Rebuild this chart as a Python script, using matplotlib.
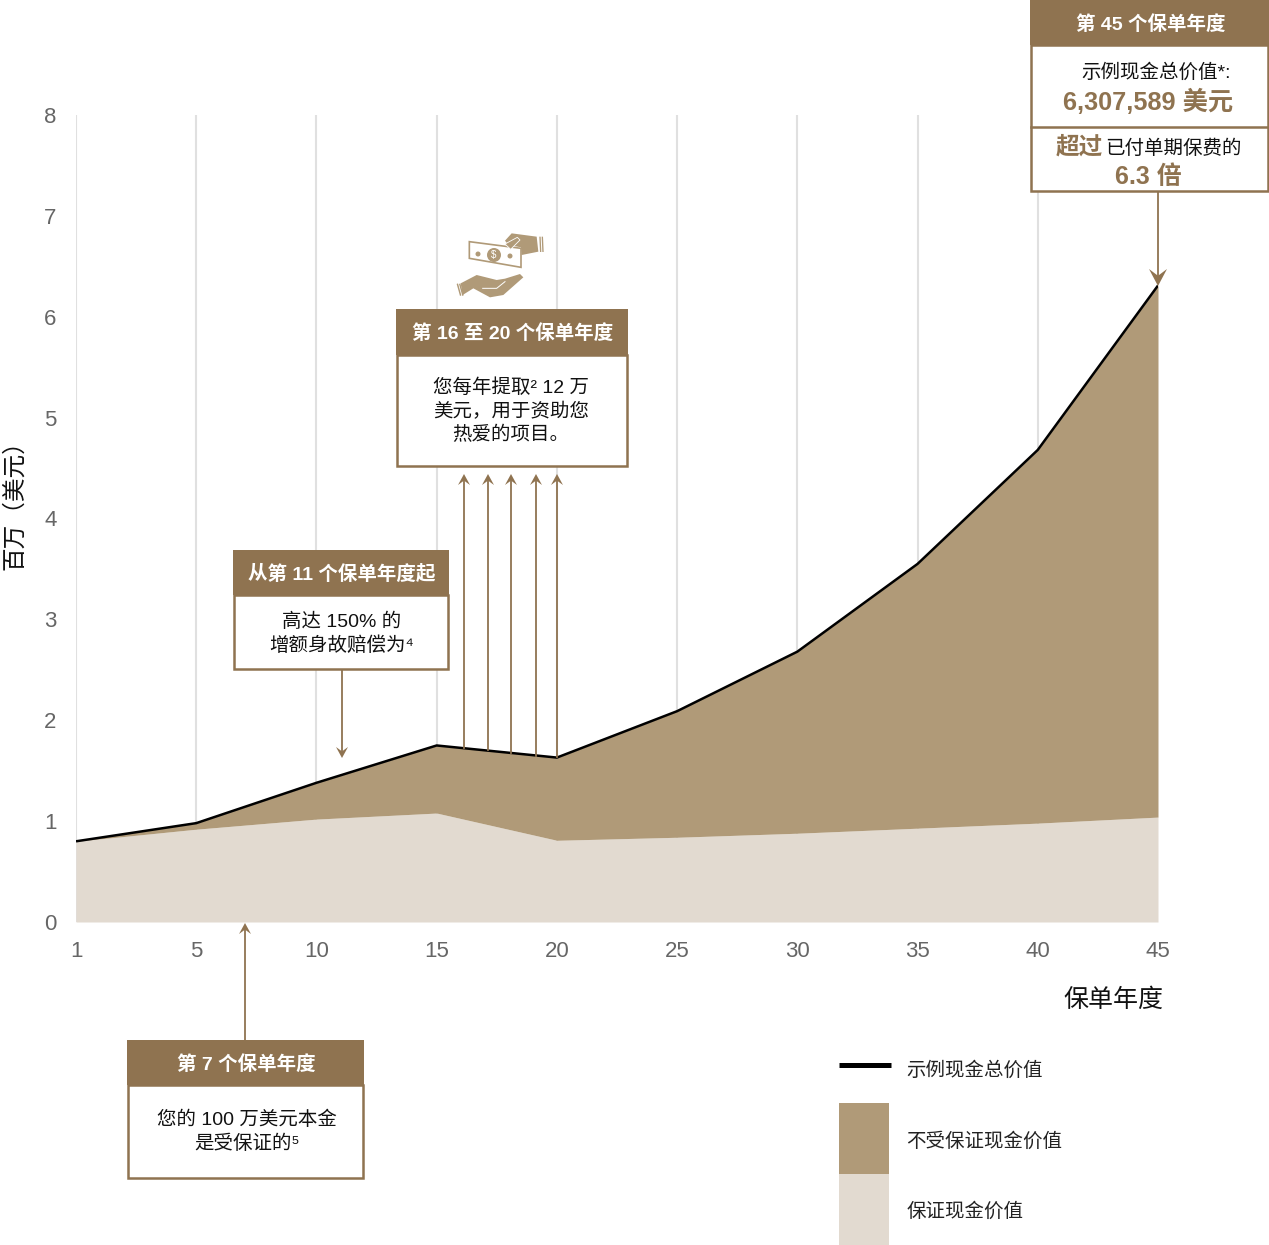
import matplotlib
matplotlib.use("Agg")
import matplotlib.pyplot as plt
from matplotlib.patches import Rectangle, Polygon, Circle

plt.rcParams['font.family'] = ['Liberation Sans', 'Noto Sans CJK SC', 'DejaVu Sans']

# data
years = ['1', '5', '10', '15', '20', '25', '30', '35', '40', '45']
total_value = [0.80, 0.98, 1.38, 1.75, 1.63, 2.09, 2.68, 3.55, 4.68, 6.31]
guaranteed = [0.80, 0.92, 1.02, 1.08, 0.81, 0.84, 0.88, 0.93, 0.98, 1.04]
y_ticks = [0, 1, 2, 3, 4, 5, 6, 7, 8]

W, H = 1269, 1245
GOLD = '#8f7350'
DARK = '#b09a78'
LIGHT = '#e2dad0'
GRID = '#e0e0e0'
GREY = '#666666'

fig = plt.figure(figsize=(W / 100, H / 100), dpi=100)
fig.patch.set_facecolor('white')

# main chart, years are evenly spaced by tick and not by value
ax = fig.add_axes([76 / W, 1 - 922 / H, (1158 - 76) / W, (922 - 115) / H])
pos = list(range(len(years)))
ax.set_xlim(0, 9)
ax.set_ylim(0, 8)
ax.vlines(pos[:-1], 0, 8, color=GRID, lw=1.5, zorder=1)
ax.fill_between(pos, 0, guaranteed, color=LIGHT, lw=0, zorder=2)
ax.fill_between(pos, guaranteed, total_value, color=DARK, lw=0, zorder=2)
ax.plot(pos, total_value, color='black', lw=1.8, zorder=3, solid_capstyle='butt')
ax.set_xticks(pos)
ax.set_xticklabels(years)
ax.set_yticks(y_ticks)
for s in ax.spines.values():
    s.set_visible(False)
ax.tick_params(length=0, labelsize=16, labelcolor=GREY)
ax.tick_params(axis='x', pad=14)
ax.tick_params(axis='y', pad=14)
ax.patch.set_alpha(0)

# overlay in pixels for callouts and legend
ov = fig.add_axes([0, 0, 1, 1], zorder=5)
ov.set_xlim(0, W)
ov.set_ylim(H, 0)
ov.axis('off')
ov.patch.set_alpha(0)


def arrow(x, y0, y1, hw=6, hl=11):
    # line from y0 to y1 with a notched head at y1
    d = 1 if y1 > y0 else -1
    ov.plot([x, x], [y0, y1 - d * hl * 0.6], color=GOLD, lw=1.3, zorder=6)
    ov.add_patch(Polygon([(x, y1), (x - hw, y1 - d * hl), (x, y1 - d * hl * 0.6), (x + hw, y1 - d * hl)],
                         closed=True, fc=GOLD, ec='none', zorder=6))


def callout(x0, x1, y0, ymid, y1, head, lines):
    ov.add_patch(Rectangle((x0 + 1, ymid), x1 - x0 - 2, y1 - ymid, fc='white', ec=GOLD, lw=1.8, zorder=7))
    ov.add_patch(Rectangle((x0, y0), x1 - x0, ymid - y0, fc=GOLD, ec='none', zorder=8))
    ov.text((x0 + x1) / 2 + 1, (y0 + ymid) / 2 + 2, head, color='white', fontsize=14, fontweight='bold',
            ha='center', va='center', zorder=9)
    for tx, ty, s in lines:
        ov.text(tx, ty, s, color='#111111', fontsize=14, ha='center', va='center', zorder=9)


arrow(245, 1042, 923)
callout(127, 364, 1040, 1085, 1178, '第 7 个保单年度',
        [(247, 1120, '您的 100 万美元本金'), (247, 1144, '是受保证的⁵')])

arrow(342, 668, 758)
callout(233, 449, 550, 595, 669, '从第 11 个保单年度起',
        [(342, 622, '高达 150% 的'), (342, 646, '增额身故赔偿为⁴')])

for ax_x, top in zip([464, 488, 511, 536, 557], [748, 750, 753, 756, 757]):
    arrow(ax_x, top, 474)
callout(396, 628, 309, 355, 466, '第 16 至 20 个保单年度',
        [(511, 388, '您每年提取² 12 万'), (511, 412, '美元，用于资助您'), (511, 435, '热爱的项目。')])

arrow(1158, 192, 286, hw=9, hl=17)
callout(1030, 1269, 0, 45, 191, '第 45 个保单年度', [(1156, 73, '示例现金总价值*:')])
ov.plot([1031, 1268], [127, 127], color=GOLD, lw=1.8, zorder=9)
ov.text(1148, 102, '6,307,589 美元', color=GOLD, fontsize=18.2, fontweight='bold', ha='center', va='center', zorder=9)
ov.text(1079, 147, '超过', color=GOLD, fontsize=17, fontweight='bold', ha='center', va='center', zorder=9)
ov.text(1173, 149, '已付单期保费的', color='#111111', fontsize=14, ha='center', va='center', zorder=9)
ov.text(1148, 177, '6.3 倍', color=GOLD, fontsize=18, fontweight='bold', ha='center', va='center', zorder=9)


def icon_pts(pts):
    # outline taken from a 3x crop at (440, 220)
    return [(440 + px / 3, 220 + py / 3) for px, py in pts]


# money icon
ov.add_patch(Polygon(icon_pts([(195, 62), (215, 40), (290, 50), (295, 95), (245, 105), (243, 82), (205, 75)]),
                     fc=DARK, ec='none', zorder=4))
for sx in [298, 305]:
    ov.add_patch(Polygon(icon_pts([(sx, 50), (sx + 4, 50), (sx + 6, 96), (sx + 2, 96)]), fc=DARK, ec='none', zorder=4))
ov.add_patch(Polygon(icon_pts([(88, 65), (243, 85), (243, 142), (88, 115)]), fc='white', ec=DARK, lw=1.2, zorder=5))
ov.add_patch(Circle((494, 255), 7, fc=DARK, ec='none', zorder=6))
ov.text(494, 255, '$', color='white', fontsize=7, ha='center', va='center', zorder=7)
ov.add_patch(Circle((478, 254), 2.5, fc=DARK, ec='none', zorder=6))
ov.add_patch(Circle((510, 256), 2.5, fc=DARK, ec='none', zorder=6))
ov.add_patch(Polygon(icon_pts([(195, 72), (232, 52), (240, 60), (212, 88)]), fc=DARK, ec='white', lw=0.6, zorder=6))
ov.add_patch(Polygon(icon_pts([(62, 190), (110, 165), (170, 180), (195, 176), (240, 162), (250, 172), (190, 225),
                               (150, 232), (100, 205), (68, 225)]), fc=DARK, ec='none', zorder=4))
for sx in [50, 57]:
    ov.add_patch(Polygon(icon_pts([(sx, 192), (sx + 4, 190), (sx + 14, 226), (sx + 10, 228)]), fc=DARK, ec='none', zorder=4))
ov.plot(*zip(*icon_pts([(128, 205), (170, 205), (195, 185)])), color='white', lw=0.7, zorder=5)

# axis titles
ov.text(15, 499, '百万（美元）', color='#111111', fontsize=17, rotation=90, ha='center', va='center')
ov.text(1113, 1000, '保单年度', color='#111111', fontsize=18, ha='center', va='center')

# legend
ov.plot([839, 891], [1065, 1065], color='black', lw=3.6, solid_capstyle='butt')
ov.add_patch(Rectangle((839, 1103), 50, 71, fc=DARK, ec='none'))
ov.add_patch(Rectangle((839, 1174), 50, 71, fc=LIGHT, ec='none'))
ov.text(906.5, 1071, '示例现金总价值', color='#222222', fontsize=14, va='center')
ov.text(906.5, 1142, '不受保证现金价值', color='#222222', fontsize=14, va='center')
ov.text(906.5, 1212, '保证现金价值', color='#222222', fontsize=14, va='center')

fig.savefig('out.png', dpi=100)
